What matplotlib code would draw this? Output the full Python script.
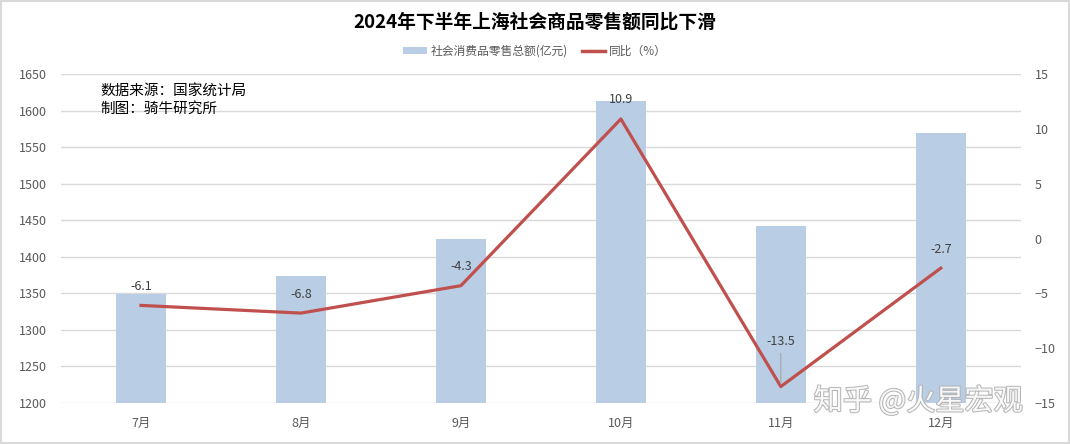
import matplotlib.pyplot as plt
import matplotlib.patheffects as pe
from matplotlib.patches import Patch, Rectangle
from matplotlib.lines import Line2D
import numpy as np

plt.rcParams['font.family'] = ['Noto Sans CJK SC', 'DejaVu Sans']

# 数据
months = ['7月', '8月', '9月', '10月', '11月', '12月']
retail = [1349, 1374, 1424, 1613, 1442, 1569]   # 亿元
yoy = [-6.1, -6.8, -4.3, 10.9, -13.5, -2.7]     # %

bar_color = '#B9CDE5'
line_color = '#C0504D'
tick_color = '#595959'

fig = plt.figure(figsize=(10.7, 4.44), dpi=100)
fig.patches.append(Rectangle((0.001, 0.002), 0.998, 0.996, transform=fig.transFigure,
                             fill=False, edgecolor='#D9D9D9', linewidth=1.5))

ax = fig.add_axes([0.057, 0.0923, 0.897, 0.741])
x = np.arange(len(months))
ax.bar(x, retail, width=0.31, color=bar_color, zorder=2)
ax.set_ylim(1200, 1650)
ax.set_yticks(np.arange(1200, 1651, 50))
ax.set_xlim(-0.5, len(months) - 0.5)
ax.set_xticks(x)
ax.set_xticklabels(months)
ax.grid(axis='y', color='#D9D9D9', linewidth=1, zorder=0)
ax.tick_params(axis='both', length=0, labelsize=9, colors=tick_color, pad=10)
for s in ax.spines.values():
    s.set_visible(False)

ax2 = ax.twinx()
ax2.plot(x, yoy, color=line_color, linewidth=2.3, zorder=3)
ax2.set_ylim(-15, 15)
ax2.set_yticks(np.arange(-15, 16, 5))
ax2.tick_params(axis='y', length=0, labelsize=9, colors=tick_color, pad=10)
for s in ax2.spines.values():
    s.set_visible(False)

# 数据标签
for i, v in enumerate(yoy):
    if i == 4:
        ax2.annotate(f'{v}', xy=(i, v), xytext=(0, 28), textcoords='offset points',
                     ha='center', va='bottom', fontsize=9, color='#404040',
                     arrowprops=dict(arrowstyle='-', color='#A6A6A6', lw=0.8))
    else:
        ax2.annotate(f'{v}', xy=(i, v), xytext=(0, 9), textcoords='offset points',
                     ha='center', va='bottom', fontsize=9, color='#404040')

# 标题和图例
fig.text(0.5, 0.95, '2024年下半年上海社会商品零售额同比下滑', ha='center', va='center',
         fontsize=13.5, fontweight='bold', color='#000000')
handles = [Patch(facecolor=bar_color, edgecolor='none'),
           Line2D([0], [0], color=line_color, linewidth=2.5)]
fig.legend(handles, ['社会消费品零售总额(亿元)', '同比（%）'], loc='center',
           bbox_to_anchor=(0.5, 0.885), ncol=2, frameon=False, fontsize=8.5,
           handlelength=2, handleheight=0.6, columnspacing=1.2, handletextpad=0.3,
           labelcolor=tick_color)

# 来源
fig.text(0.094, 0.775, '数据来源：国家统计局\n制图：骑牛研究所', ha='left', va='center',
         fontsize=10.5, color='#000000', linespacing=1.25)

# 水印
fig.text(0.858, 0.095, '知乎 @火星宏观', ha='center', va='center', fontsize=21,
         color='#FFFFFF', alpha=0.9,
         path_effects=[pe.withStroke(linewidth=1.5, foreground='#B0B0B0')], zorder=10)

fig.savefig('out.png', dpi=100)
